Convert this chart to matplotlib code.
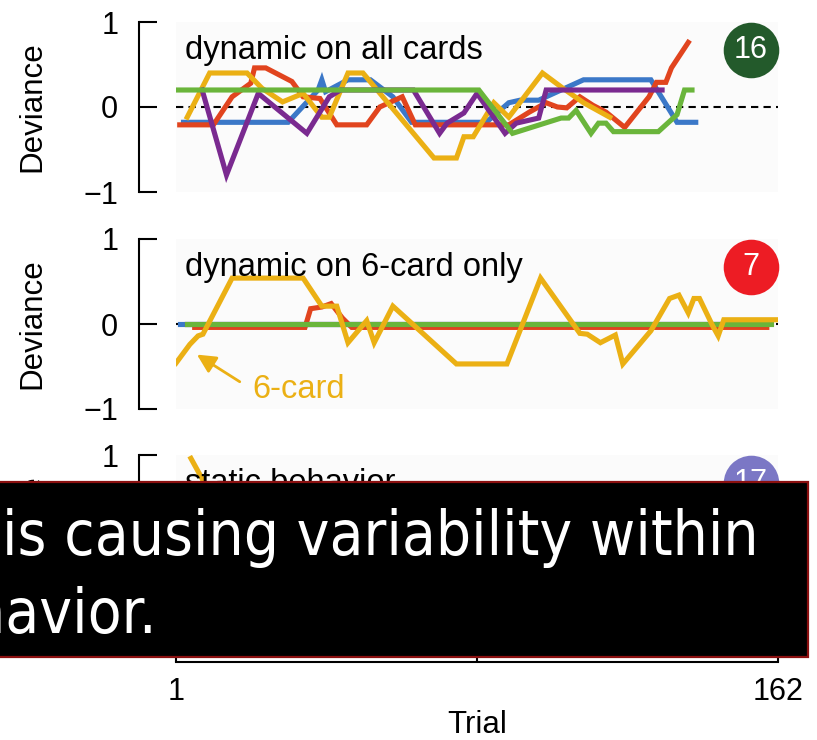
import matplotlib.pyplot as plt
from matplotlib.patches import Rectangle

plt.rcParams["font.family"] = ["Liberation Sans", "DejaVu Sans"]

# Colours for the five participants' traces
c_blue = "#3b78c8"
c_red = "#e1441e"
c_yellow = "#ebb014"
c_purple = "#7a2a90"
c_green = "#6ab53b"

# Panel 1: dynamic on all cards (trial, deviance)
p1_blue_t = [3, 31, 39, 40, 41, 47, 53, 59, 64, 84, 90, 93, 98, 110, 128, 135, 140]
p1_blue_v = [-0.18, -0.18, 0.2, 0.32, 0.18, 0.32, 0.32, 0.12, -0.18, -0.18, 0.05, 0.08, 0.08, 0.32, 0.32, -0.18, -0.18]
p1_red_t = [2, 11, 16, 21, 22, 25, 32, 35, 39.5, 44, 52, 55.5, 61.5, 65, 90, 95.5, 100, 103, 105.5, 109, 112.5, 116, 121, 127.5, 129.5, 132, 133.5, 138]
p1_red_v = [-0.21, -0.21, 0.12, 0.28, 0.46, 0.46, 0.3, 0.12, 0.1, -0.21, -0.21, 0.0, 0.12, -0.21, -0.21, -0.06, 0.05, 0.0, -0.01, 0.12, 0.02, -0.06, -0.24, 0.12, 0.29, 0.29, 0.46, 0.76]
p1_yellow_t = [4, 10, 20, 24, 29.5, 35, 40, 42, 47, 51, 70, 76, 78, 80.5, 86, 90, 99, 104.5, 110, 117]
p1_yellow_v = [-0.12, 0.4, 0.4, 0.22, 0.06, 0.16, -0.12, -0.12, 0.4, 0.4, -0.6, -0.6, -0.35, -0.35, 0.05, -0.12, 0.4, 0.22, 0.05, -0.12]
p1_purple_t = [8, 14.5, 23, 36, 42, 45, 64.5, 71.5, 73.5, 78, 81.5, 89, 92, 98, 100, 131]
p1_purple_v = [0.2, -0.8, 0.16, -0.31, 0.12, 0.2, 0.2, -0.31, -0.19, -0.07, 0.16, -0.31, -0.19, -0.13, 0.2, 0.2]
p1_green_t = [1, 82, 91, 104, 106, 108, 112, 114, 116, 118, 130, 135, 137, 139]
p1_green_v = [0.2, 0.2, -0.31, -0.13, -0.13, -0.04, -0.31, -0.19, -0.19, -0.29, -0.29, -0.09, 0.2, 0.2]

# Panel 2: dynamic on 6-card only
p2_blue_t = [2, 158]
p2_blue_v = [0, 0]
p2_red_t = [6, 35.5, 37, 40, 42.5, 45.5, 48, 159]
p2_red_v = [-0.04, -0.04, 0.18, 0.2, 0.24, 0.07, -0.04, -0.04]
p2_purple_t = [4, 158]
p2_purple_v = [0, 0]
p2_green_t = [4, 160]
p2_green_v = [0, 0]
p2_yellow_t = [1, 4.7, 6.9, 8.2, 16, 35, 40, 44, 47, 52, 54, 59, 76, 89.5, 98.5, 109, 111, 114.5, 118.5, 120.5, 128, 133, 135.5, 138, 139.5, 141, 144.5, 146, 147.5, 162]
p2_yellow_v = [-0.46, -0.24, -0.14, -0.12, 0.54, 0.54, 0.21, 0.21, -0.22, 0.04, -0.22, 0.21, -0.47, -0.47, 0.54, -0.11, -0.12, -0.22, -0.13, -0.47, -0.08, 0.3, 0.34, 0.13, 0.3, 0.3, -0.02, -0.14, 0.05, 0.05]

# Panel 3: static behavior
p3_yellow_t = [5, 8.5, 12]
p3_yellow_v = [0.96, 0.68, 0.4]

titles = ["dynamic on all cards", "dynamic on 6-card only", "static behavior"]
counts = ["16", "7", "17"]
count_colors = ["#235a2b", "#ed1c24", "#7b77c5"]

fig = plt.figure(figsize=(8.17, 7.40), dpi=100)
left, width = 176 / 817, 602 / 817
tops = [22, 239, 455]
axes = [fig.add_axes([left, 1 - (t + 170) / 740, width, 170 / 740]) for t in tops]

series = [
    [(p1_blue_t, p1_blue_v, c_blue), (p1_red_t, p1_red_v, c_red), (p1_yellow_t, p1_yellow_v, c_yellow),
     (p1_purple_t, p1_purple_v, c_purple), (p1_green_t, p1_green_v, c_green)],
    [(p2_blue_t, p2_blue_v, c_blue), (p2_red_t, p2_red_v, c_red), (p2_purple_t, p2_purple_v, c_purple),
     (p2_green_t, p2_green_v, c_green), (p2_yellow_t, p2_yellow_v, c_yellow)],
    [(p3_yellow_t, p3_yellow_v, c_yellow)],
]

for i, ax in enumerate(axes):
    ax.set_facecolor("#fbfbfb")
    ax.axhline(0, color="k", lw=1.5, linestyle=(0, (3.5, 2.5)), zorder=1)
    for t, v, c in series[i]:
        ax.plot(t, v, color=c, lw=3.7, solid_joinstyle="miter", zorder=2)

    ax.set_xlim(1, 162)
    ax.set_ylim(-1, 1)
    ax.set_yticks([-1, 0, 1])
    ax.set_yticklabels(["\u22121", "0", "1"])
    for s in ["top", "right"]:
        ax.spines[s].set_visible(False)
    ax.spines["left"].set_position(("outward", 26.6))
    ax.spines["left"].set_linewidth(1.5)
    ax.tick_params(axis="y", direction="in", length=13, width=1.5, pad=15, labelsize=22)
    ax.set_ylabel("Deviance", fontsize=22.5)
    ax.yaxis.set_label_coords(-0.213, 0.5)

    ax.text(0.015, 0.78, titles[i], transform=ax.transAxes, fontsize=23.5, va="baseline", ha="left", zorder=3)
    ax.plot(0.955, 0.835, "o", ms=40, color=count_colors[i], mec="none", transform=ax.transAxes, clip_on=False)
    ax.text(0.955, 0.835, counts[i], transform=ax.transAxes, fontsize=22, color="white", ha="center", va="center")

    if i < 2:
        ax.spines["bottom"].set_visible(False)
        ax.set_xticks([])
    else:
        ax.spines["bottom"].set_position(("outward", 26.6))
        ax.spines["bottom"].set_linewidth(1.5)
        ax.set_xticks([1, 81.5, 162])
        ax.set_xticklabels(["1", "", "162"])
        ax.tick_params(axis="x", direction="in", length=13, width=1.5, pad=11, labelsize=22)
        ax.set_xlabel("Trial", fontsize=22.5)
        ax.xaxis.set_label_coords(0.5, -0.5)

# Label pointing at the 6-card trace
axes[1].annotate("6-card", xy=(6.6, -0.36), xytext=(21.3, -0.77), fontsize=23.5, color=c_yellow,
                 ha="left", va="center",
                 arrowprops=dict(arrowstyle="-|>", color=c_yellow, lw=2, mutation_scale=28,
                                 relpos=(0, 0.5), shrinkA=8, shrinkB=0))

# Caption bar across the lower part
fig.patches.append(Rectangle((-0.02, 1 - 657 / 740), 808 / 817 + 0.02, 175 / 740,
                             transform=fig.transFigure, facecolor="black", edgecolor="#8b1010",
                             lw=1.6, zorder=10))
cap_font = dict(family="DejaVu Sans", fontstretch="condensed", fontsize=44.5, color="white", zorder=11)
fig.text(2 / 817, 1 - 555 / 740, "is causing variability within", ha="left", va="baseline", **cap_font)
fig.text(157 / 817, 1 - 633 / 740, "havior.", ha="right", va="baseline", **cap_font)

fig.savefig("out.png", dpi=100)
